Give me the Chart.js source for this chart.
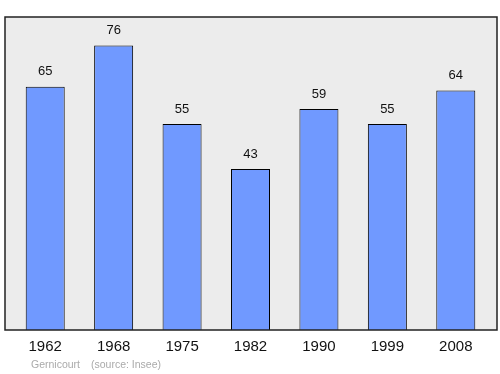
<!DOCTYPE html>
<html><head><meta charset="utf-8">
<script src="https://cdn.jsdelivr.net/npm/chart.js@4/dist/chart.umd.min.js"></script>
<style>html,body{margin:0;padding:0;background:#fff}#c{display:block}</style>
</head><body>
<canvas id="c" width="500" height="374"></canvas>
<script>
const categories = ["1962","1968","1975","1982","1990","1999","2008"];
const population = [65,76,55,43,59,55,64];
const footerPlace = "Gernicourt";
const footerSource = "(source: Insee)";

const FONT = '"Liberation Sans", Arial, sans-serif';

const decor = {
  id: 'decor',
  beforeDraw(chart) {
    const {ctx, chartArea: a} = chart;
    ctx.save();
    ctx.fillStyle = '#ececec';
    ctx.fillRect(a.left - 6, a.top, a.right - a.left + 13, a.bottom - a.top);
    ctx.restore();
  },
  afterDatasetsDraw(chart) {
    const {ctx, chartArea: a} = chart;
    const xs = chart.scales.x, ys = chart.scales.y;
    ctx.save();
    ctx.strokeStyle = '#222';
    ctx.lineWidth = 1.5;
    ctx.strokeRect(a.left - 6, a.top, a.right - a.left + 13, a.bottom - a.top);
    ctx.fillStyle = '#111';
    ctx.textAlign = 'center';
    ctx.textBaseline = 'middle';
    ctx.font = '13px ' + FONT;
    population.forEach((v, i) => {
      const x = xs.getPixelForValue(i);
      const y = ys.getPixelForValue(v);
      ctx.fillText(String(v), x, y - 15);
    });
    ctx.font = '15px ' + FONT;
    categories.forEach((c, i) => {
      ctx.fillText(c, xs.getPixelForValue(i), a.bottom + 17);
    });
    ctx.fillStyle = '#aaa';
    ctx.font = '10.5px ' + FONT;
    ctx.textAlign = 'left';
    ctx.fillText(footerPlace, 31, a.bottom + 35);
    ctx.fillText(footerSource, 91, a.bottom + 35);
    ctx.restore();
  }
};

new Chart(document.getElementById('c'), {
  type: 'bar',
  data: {
    labels: categories,
    datasets: [{
      data: population,
      backgroundColor: '#7099ff',
      borderColor: '#000',
      borderWidth: 1,
      barPercentage: 0.57,
      categoryPercentage: 1
    }]
  },
  options: {
    responsive: false,
    animation: false,
    layout: { padding: { left: 11, right: 10, top: 17, bottom: 44 } },
    plugins: { legend: { display: false }, tooltip: { enabled: false } },
    scales: {
      x: { display: false },
      y: { display: false, min: 0, max: 83.6 }
    }
  },
  plugins: [decor]
});
</script>
</body></html>
